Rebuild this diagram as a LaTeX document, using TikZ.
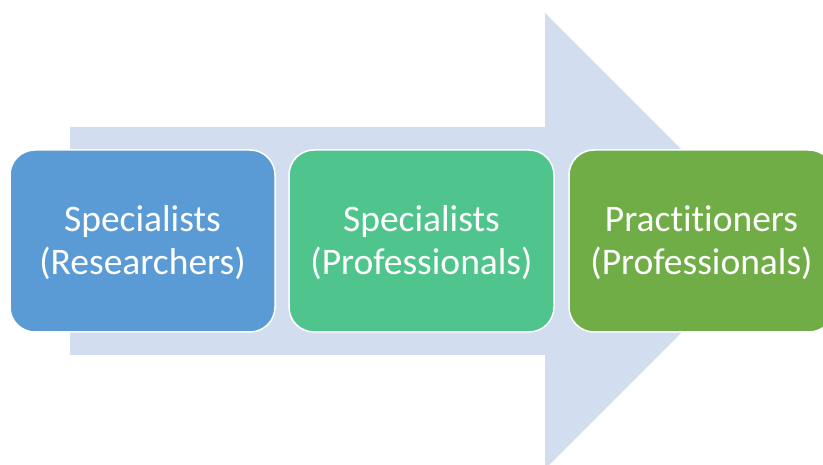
\documentclass[tikz,border=0pt]{standalone}
\usepackage{fontspec}
\setmainfont{Carlito}[Ligatures=NoCommon]
\definecolor{arrowc}{HTML}{D2DEEF}
\definecolor{cblue}{HTML}{5B9BD5}
\definecolor{cgreen}{HTML}{4FC48C}
\definecolor{colive}{HTML}{70AD47}
\begin{document}
\begin{tikzpicture}[x=1pt,y=-1pt,
  box/.style={draw=white, line width=1.5pt, rounded corners=25pt,
    minimum width=265pt, minimum height=182pt, text=white,
    font=\fontsize{37.5}{43}\selectfont, align=center, inner sep=0pt}]
\useasboundingbox (0,0) rectangle (823,465);
\clip (0,0) rectangle (823,465);
\fill[arrowc] (70,127) -- (545,127) -- (545,13) -- (773,241) -- (545,469) -- (545,355) -- (70,355) -- cycle;
\node[box, fill=cblue] (a) at (142.5,241) {};
\node[box, fill=cgreen] (b) at (421.5,241) {};
\node[box, fill=colive] (c) at (701.5,241) {};
\node[text=white, font=\fontsize{37.5}{43}\selectfont, align=center, inner sep=0pt] (ta) at (142.5,243) {Specialists\\(Researchers)};
\node[text=white, font=\fontsize{37.5}{43}\selectfont, align=center, inner sep=0pt] (tb) at (421.5,243) {Specialists\\(Professionals)};
\node[text=white, font=\fontsize{37.5}{43}\selectfont, align=center, inner sep=0pt] (tc) at (701.5,243) {Practitioners\\(Professionals)};
\end{tikzpicture}
\end{document}
